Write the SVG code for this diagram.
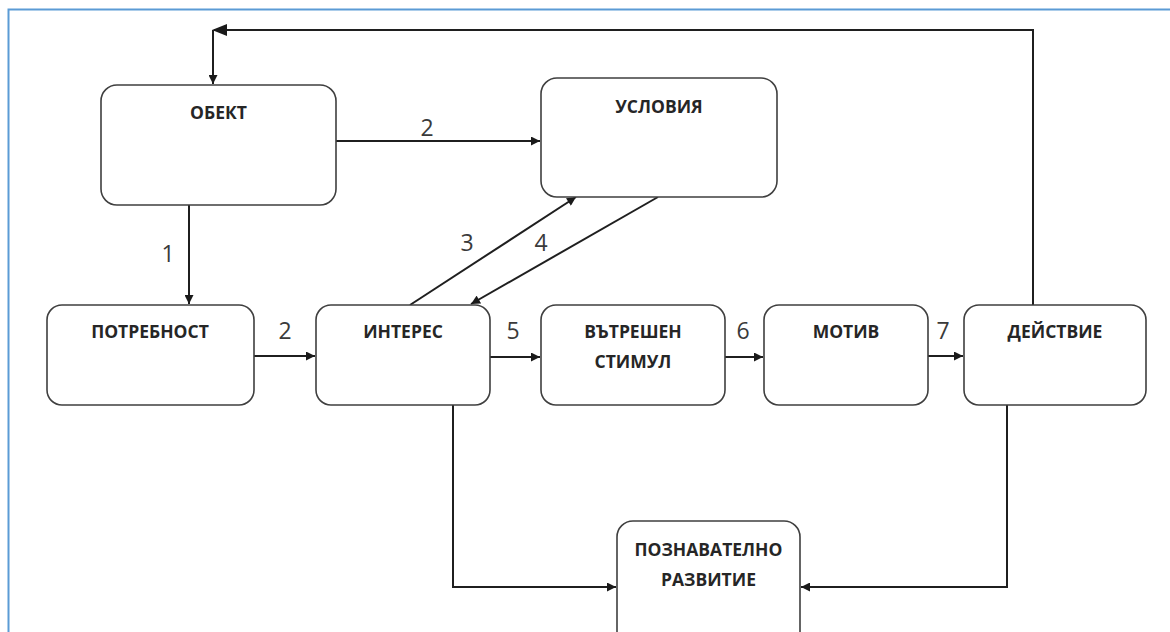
<svg xmlns="http://www.w3.org/2000/svg" width="1170" height="632" viewBox="0 0 1170 632">
<defs>
<marker id="ah" viewBox="0 0 10 10" refX="10" refY="5" markerWidth="10" markerHeight="9" markerUnits="userSpaceOnUse" orient="auto">
<path d="M0,0 L10,5 L0,10 z" fill="#1a1a1a"/>
</marker>
<style>
.box{fill:#fff;stroke:#3f3f3f;stroke-width:1.6}
.lbl{font-family:"Open Sans","DejaVu Sans",sans-serif;font-weight:700;font-size:17.5px;fill:#262626;text-anchor:middle}
.num{font-family:"Open Sans","DejaVu Sans",sans-serif;font-size:23px;fill:#3a3a3a;text-anchor:middle}
.ln{fill:none;stroke:#1f1f1f;stroke-width:2}
.ar{fill:none;stroke:#1f1f1f;stroke-width:2;marker-end:url(#ah)}
</style>
</defs>
<rect x="0" y="0" width="1170" height="632" fill="#fff"/>
<rect x="8.5" y="9.5" width="1180" height="640" fill="none" stroke="#5b9bd5" stroke-width="2"/>

<g id="connectors">
<path class="ar" d="M336,141 H540"/>
<path class="ar" d="M189,205 V304"/>
<path class="ar" d="M254,356 H315"/>
<path class="ar" d="M410,305 L576,197"/>
<path class="ar" d="M658,197 L471,304"/>
<path class="ar" d="M490,357 H540"/>
<path class="ar" d="M725,357 H763"/>
<path class="ar" d="M928,356 H963"/>
<path class="ln" d="M1033,305 V30 H214"/>
<path d="M212,30 L227,24 L227,36 z" fill="#1a1a1a"/>
<path class="ar" d="M213,30 V84"/>
<path class="ar" d="M453,405 V587 H616"/>
<path class="ar" d="M1007,405 V587 H801"/>
<text class="num" x="427" y="136">2</text>
<text class="num" x="168" y="262">1</text>
<text class="num" x="285" y="339">2</text>
<text class="num" x="467" y="251">3</text>
<text class="num" x="541" y="251">4</text>
<text class="num" x="513" y="339">5</text>
<text class="num" x="743" y="339">6</text>
<text class="num" x="943" y="339">7</text>
</g>

<g id="obekt">
<rect class="box" x="101" y="85" width="235" height="120" rx="16"/>
<text class="lbl" x="218.5" y="119">ОБЕКТ</text>
</g>
<g id="usloviya">
<rect class="box" x="541" y="78" width="236" height="119" rx="16"/>
<text class="lbl" x="659" y="113">УСЛОВИЯ</text>
</g>
<g id="potrebnost">
<rect class="box" x="47" y="305" width="207" height="100" rx="15"/>
<text class="lbl" x="150" y="338">ПОТРЕБНОСТ</text>
</g>
<g id="interes">
<rect class="box" x="316" y="305" width="174" height="100" rx="15"/>
<text class="lbl" x="403" y="338">ИНТЕРЕС</text>
</g>
<g id="vatreshen">
<rect class="box" x="541" y="305" width="184" height="100" rx="15"/>
<text class="lbl" x="633" y="338">ВЪТРЕШЕН</text>
<text class="lbl" x="633" y="368">СТИМУЛ</text>
</g>
<g id="motiv">
<rect class="box" x="764" y="305" width="164" height="100" rx="15"/>
<text class="lbl" x="846" y="338">МОТИВ</text>
</g>
<g id="deystvie">
<rect class="box" x="964" y="305" width="182" height="100" rx="15"/>
<text class="lbl" x="1055" y="338">ДЕЙСТВИЕ</text>
</g>
<g id="poznavatelno">
<rect class="box" x="617" y="521" width="183" height="130" rx="16"/>
<text class="lbl" x="708.5" y="556">ПОЗНАВАТЕЛНО</text>
<text class="lbl" x="708.5" y="586">РАЗВИТИЕ</text>
</g>
</svg>
